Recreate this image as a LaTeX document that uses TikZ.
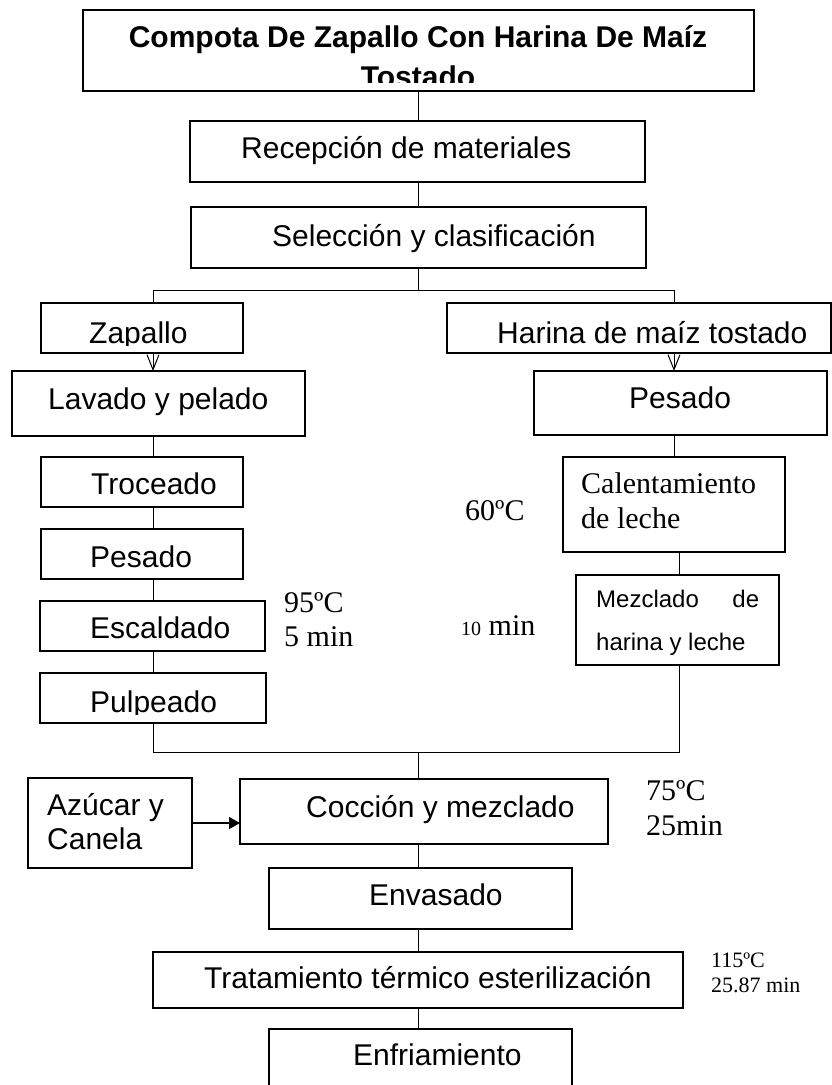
\documentclass[tikz,border=0pt]{standalone}
\usepackage{fontspec}
\setmainfont{Liberation Serif}
\newfontfamily\arialf{Liberation Sans}
\usetikzlibrary{arrows.meta,calc}
\begin{document}
\begin{tikzpicture}[x=1pt,y=-1pt,
  box/.style={draw=black,line width=1.2pt,inner sep=0pt,outer sep=0pt,anchor=north west},
  lbl/.style={anchor=base west,inner sep=0pt,font=\arialf\fontsize{30}{35}\selectfont},
  lblc/.style={anchor=base,inner sep=0pt,font=\arialf\bfseries\fontsize{30}{35}\selectfont},
  small/.style={anchor=base west,inner sep=0pt,font=\arialf\fontsize{24}{28}\selectfont},
  tms/.style={anchor=base west,inner sep=0pt,font=\fontsize{30}{35}\selectfont},
  tmss/.style={anchor=base west,inner sep=0pt,font=\fontsize{22}{26}\selectfont},
  conn/.style={line width=1pt},
  openarr/.style={conn,-{Straight Barb[length=15pt,width=12pt,line width=1pt]}},
  fillarr/.style={line width=1.4pt,-{Triangle[length=11pt,width=12pt]}}
]
\useasboundingbox (0,0) rectangle (832,1085);
\clip (0,0) rectangle (832,1085);
\fill[white] (0,0) rectangle (832,1085);

% column coordinates
\coordinate (cx) at (418,0);
\coordinate (colL) at (153,0);
\coordinate (colR) at (674,0);
\coordinate (colM) at (679,0);
\coordinate (jt) at (0,290);
\coordinate (jb) at (0,752);

% boxes
\node[box,minimum width=671pt,minimum height=81pt] (title) at (83,10) {};
\node[box,minimum width=455pt,minimum height=61pt] (rec) at (190,121) {};
\node[box,minimum width=455pt,minimum height=61pt] (sel) at (191,207) {};
\node[box,minimum width=202pt,minimum height=50pt] (zap) at (41,303) {};
\node[box,minimum width=384pt,minimum height=50pt] (har) at (447,303) {};
\node[box,minimum width=293pt,minimum height=65pt] (lav) at (12,371) {};
\node[box,minimum width=293pt,minimum height=64pt] (pesR) at (534,371) {};
\node[box,minimum width=202pt,minimum height=50pt] (tro) at (41,457) {};
\node[box,minimum width=202pt,minimum height=50pt] (pesL) at (41,529) {};
\node[box,minimum width=225pt,minimum height=50pt] (esc) at (40,601) {};
\node[box,minimum width=226pt,minimum height=50pt] (pul) at (40,673) {};
\node[box,minimum width=222pt,minimum height=95pt] (cal) at (563,457) {};
\node[box,minimum width=203pt,minimum height=90pt] (mez) at (576,575) {};
\node[box,minimum width=164pt,minimum height=90pt] (azu) at (28,778) {};
\node[box,minimum width=368pt,minimum height=65pt] (coc) at (240,779) {};
\node[box,minimum width=303pt,minimum height=61pt] (env) at (269,868) {};
\node[box,minimum width=530pt,minimum height=56pt] (tra) at (153,952) {};
\node[box,minimum width=303pt,minimum height=80pt] (enf) at (269,1029) {};

% texts
\node[lblc] (t1) at (418,47) {Compota De Zapallo Con Harina De Maíz};
\begin{scope}
\clip (83,10) rectangle (754,82);
\node[lblc] (t2) at (418,87) {Tostado};
\end{scope}
\node[lbl] (trec) at (241,158.5) {Recepción de materiales};
\node[lbl] (tsel) at (272,246) {Selección y clasificación};
\begin{scope}
\clip (41,303) rectangle (243,345);
\node[lbl] (tzap) at (89,343) {Zapallo};
\end{scope}
\node[lbl] (thar) at (497,343) {Harina de maíz tostado};
\node[lbl] (tlav) at (48,409) {Lavado y pelado};
\node[lbl] (tpesR) at (629,408) {Pesado};
\node[lbl] (ttro) at (91,494) {Troceado};
\node[lbl] (tpesL) at (90,567) {Pesado};
\node[lbl] (tesc) at (90,638) {Escaldado};
\begin{scope}
\clip (40,673) rectangle (266,714);
\node[lbl] (tpul) at (90,712) {Pulpeado};
\end{scope}
\node[tms] (tcal1) at (581,493) {Calentamiento};
\node[tms] (tcal2) at (581,528) {de leche};
\node[small] (tmez1) at (596,607) {\makebox[163pt][l]{Mezclado\hfill de}};
\node[small] (tmez2) at (596,650) {harina y leche};
\node[tms] (c95) at (284,612) {95ºC};
\node[tms] (m5) at (284,646) {5 min};
\node[tms] (c60) at (465,520) {60ºC};
\node[tms] (m10) at (461,635) {{\fontsize{20}{24}\selectfont 10} min};
\node[lbl] (tazu1) at (47,815) {Azúcar y};
\node[lbl] (tazu2) at (47,849) {Canela};
\node[lbl] (tcoc) at (306,817) {Cocción y mezclado};
\node[tms] (c75) at (646,800) {75ºC};
\node[tms] (m25) at (646,835) {25min};
\node[lbl] (tenv) at (369,905) {Envasado};
\node[lbl] (ttra) at (204,988) {Tratamiento térmico esterilización};
\node[tmss] (c115) at (711,967) {115ºC};
\node[tmss] (m2587) at (711,992) {25.87 min};
\node[lbl] (tenf) at (353,1065) {Enfriamiento};

% connectors
\draw[conn] (title.south -| cx) -- (rec.north -| cx);
\draw[conn] (rec.south -| cx) -- (sel.north -| cx);
\draw[conn] (sel.south -| cx) -- (jt -| cx);
\draw[conn] (zap.north -| colL) -- (jt -| colL) -- (jt -| colR) -- (har.north -| colR);
\draw[openarr] (zap.south -| colL) -- (lav.north -| colL);
\draw[openarr] (har.south -| colR) -- (pesR.north -| colR);
\draw[conn] (lav.south -| colL) -- (tro.north -| colL);
\draw[conn] (tro.south -| colL) -- (pesL.north -| colL);
\draw[conn] (pesL.south -| colL) -- (esc.north -| colL);
\draw[conn] (esc.south -| colL) -- (pul.north -| colL);
\draw[conn] (pesR.south -| colR) -- (cal.north -| colR);
\draw[conn] (cal.south -| colM) -- (mez.north -| colM);
\draw[conn] (pul.south -| colL) -- (jb -| colL) -- (jb -| colM) -- (mez.south -| colM);
\draw[conn] (jb -| cx) -- (coc.north -| cx);
\draw[fillarr] (azu.east) -- (coc.west |- azu.east);
\draw[conn] (coc.south -| cx) -- (env.north -| cx);
\draw[conn] (env.south -| cx) -- (tra.north -| cx);
\draw[conn] (tra.south -| cx) -- (enf.north -| cx);
\end{tikzpicture}
\end{document}
